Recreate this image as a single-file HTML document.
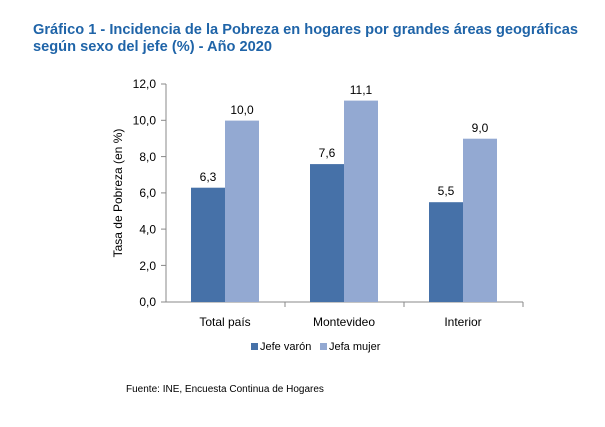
<!DOCTYPE html>
<html><head><style>
body{margin:0;background:#fff;width:605px;height:422px;overflow:hidden;font-family:"Liberation Sans",sans-serif}
</style></head><body>
<svg width="605" height="422" xmlns="http://www.w3.org/2000/svg" font-family="Liberation Sans, sans-serif">
<text x="33" y="34" font-size="14.5" font-weight="bold" fill="#1f64a8" textLength="545" lengthAdjust="spacingAndGlyphs">Gráfico 1 - Incidencia de la Pobreza en hogares por grandes áreas geográficas</text>
<text x="33" y="51" font-size="14.5" font-weight="bold" fill="#1f64a8" textLength="239" lengthAdjust="spacingAndGlyphs">según sexo del jefe (%) - Año 2020</text>
<g stroke="#888" stroke-width="1">
<line x1="166" y1="84" x2="166" y2="302"/>
<line x1="166" y1="302" x2="523" y2="302"/>
<line x1="161" y1="84" x2="166" y2="84"/><line x1="161" y1="120.3" x2="166" y2="120.3"/>
<line x1="161" y1="156.6" x2="166" y2="156.6"/><line x1="161" y1="192.9" x2="166" y2="192.9"/>
<line x1="161" y1="229.1" x2="166" y2="229.1"/><line x1="161" y1="265.4" x2="166" y2="265.4"/>
<line x1="161" y1="302" x2="166" y2="302"/>
<line x1="285" y1="302" x2="285" y2="307"/><line x1="404" y1="302" x2="404" y2="307"/><line x1="523" y1="302" x2="523" y2="307"/>
</g>
<g font-size="12" fill="#000" text-anchor="end">
<text x="156" y="88">12,0</text><text x="156" y="124.5">10,0</text><text x="156" y="161">8,0</text>
<text x="156" y="197">6,0</text><text x="156" y="233.5">4,0</text><text x="156" y="270">2,0</text><text x="156" y="306">0,0</text>
</g>
<text transform="translate(122,193) rotate(-90)" font-size="12" text-anchor="middle">Tasa de Pobreza (en %)</text>
<g fill="#4671a8">
<rect x="191" y="187.7" width="34" height="114.3"/>
<rect x="310" y="164.1" width="34" height="137.9"/>
<rect x="429" y="202.2" width="34" height="99.8"/>
</g>
<g fill="#93a9d2">
<rect x="225" y="120.6" width="34" height="181.4"/>
<rect x="344" y="100.6" width="34" height="201.4"/>
<rect x="463" y="138.7" width="34" height="163.3"/>
</g>
<g font-size="12" text-anchor="middle">
<text x="208" y="181">6,3</text><text x="242" y="114">10,0</text>
<text x="327" y="157">7,6</text><text x="361" y="94">11,1</text>
<text x="446" y="195">5,5</text><text x="480" y="132">9,0</text>
<text x="225" y="326">Total país</text><text x="344" y="326">Montevideo</text><text x="463" y="326">Interior</text>
</g>
<rect x="251" y="343" width="7" height="7" fill="#4671a8"/>
<text x="260" y="350" font-size="11">Jefe varón</text>
<rect x="320" y="343" width="7" height="7" fill="#93a9d2"/>
<text x="329" y="350" font-size="11">Jefa mujer</text>
<text x="126" y="392" font-size="10">Fuente: INE, Encuesta Continua de Hogares</text>
</svg>
</body></html>
